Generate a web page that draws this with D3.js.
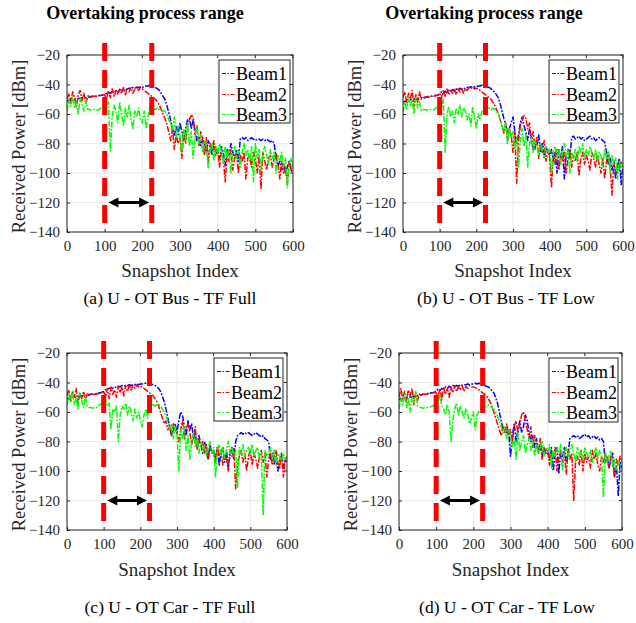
<!DOCTYPE html>
<html>
<head>
<meta charset="utf-8">
<script src="https://cdn.jsdelivr.net/npm/d3@7"></script>
<style>
html,body{margin:0;padding:0;background:#fff;}
svg{display:block;font-family:"Liberation Serif","Times New Roman",serif;}
</style>
</head>
<body>
<svg id="chart" width="636" height="623"></svg>
<script>
// ---------------- DATA ----------------
const snapshotStep = 5;               // snapshot index step between stored samples (0..600)
const xTicks = [0,100,200,300,400,500,600];
const yTicks = [-140,-120,-100,-80,-60,-40,-20];
const seriesNames = ["Beam1","Beam2","Beam3"];
const seriesColors = ["#0000ff","#ff0000","#00ff00"];
const overtakeStart = 100, overtakeEnd = 225;
const arrowFrom = 110, arrowTo = 218, arrowLevel = -120;
const topTitles = ["Overtaking process range","Overtaking process range"];
const captions = ["(a) U - OT Bus - TF Full","(b) U - OT Bus - TF Low","(c) U - OT Car - TF Full","(d) U - OT Car - TF Low"];

// Panel (a) U - OT Bus - TF Full
const A_beam1 = [
 -51,-51,-50.5,-50,-50,-50,-49.5,-49.5,-49,-49, -49,-48.5,-48.5,-48.5,-48,-48,-48,-47.5,-47.5,-47,
 -47,-46,-45.5,-46,-44.5,-45,-44,-45,-43.5,-44, -43,-44,-43,-42.5,-43,-42,-42.5,-42,-42,-41.5,
 -42,-41.5,-41,-41,-40.5,-41,-41.5,-42,-43,-44, -46,-48,-50,-54,-59,-64,-70,-75,-68,-74,
 -66,-72,-78,-70,-64,-63,-70,-64,-72,-78, -75,-82,-76,-80,-86,-78,-82,-88,-80,-84,
 -85,-90,-82,-86,-95,-84,-88,-80,-86,-90, -84,-92,
 -77,-76,-77,-76,-78,-77,-76,-77,-78,-77, -77,-78,-77,-78,-77,-78,-79,-78,-80,
 -90,-95,-92,-98,-94,-100,-96,-92,-98,-100];
const A_beam2 = [
 -50,-46,-52,-45,-49,-55,-47,-44,-51,-46, -53,-48,-47.5,-48,-48,-48,-48,-47.5,-47.5,-47,
 -47,-50,-44,-49,-43,-48,-44,-47,-43,-46, -42,-47,-43,-45,-42,-46,-43,-41.5,-44,-42,
 -43,-44,-45,-46,-47,-48,-49,-50,-52,-54, -57,-60,-63,-67,-72,-78,-70,-84,-74,-80,
 -76,-90,-72,-80,-68,-64,-61,-62,-74,-68, -82,-72,-78,-88,-76,-92,-80,-84,-78,-88,
 -84,-96,-86,-90,-106,-88,-92,-84,-98,-90, -86,-100,-88,-92,-86,-104,-90,-88,-96,-86,
 -90,-100,-88,-111,-86,-92,-98,-90,-88,-96, -90,-86,-94,-104,-92,-100,-96,-108,-92,-98, -94];
const A_beam3 = [
 -58,-50,-55,-48,-56,-52,-60,-49,-54,-58, -51,-57,-57,-57.5,-57,-57,-57.5,-57,-56,-55,
 -50,-54,-52,-85,-62,-54,-58,-66,-52,-60, -68,-56,-62,-54,-64,-70,-58,-62,-56,-64,
 -66,-58,-70,-62,-55,-60,-57,-57,-56,-57, -57,-58,-58,-60,-64,-66,-70,-62,-76,-68,
 -74,-86,-70,-78,-66,-82,-72,-90,-76,-68, -80,-74,-86,-78,-82,-97,-84,-80,-92,-82,
 -88,-80,-86,-94,-82,-90,-84,-100,-86,-82, -90,-84,-96,-86,-80,-88,-84,-92,-82,-106,
 -80,-90,-84,-98,-86,-82,-88,-94,-84,-90, -86,-100,-88,-92,-86,-96,-90,-110,-94,-90, -96];

// Panel (b) U - OT Bus - TF Low
const B_beam1 = [
 -52,-51.5,-51,-51,-50.5,-50,-50,-50,-49.5,-49.5, -49,-49,-49,-48.5,-48.5,-48,-48,-47.5,-47.5,-47,
 -46.5,-45,-46,-44.5,-45.5,-44,-45,-43.5,-44.5,-43, -44,-42.5,-43.5,-42.5,-43,-42,-42,-41.5,-42,-41.5,
 -41.5,-41,-41,-40.5,-41,-41,-41.5,-42,-43,-44, -45.5,-47,-49,-53,-58,-63,-67,-72,-70,-66,
 -62,-72,-80,-74,-66,-62,-68,-72,-78,-70, -76,-84,-78,-82,-74,-86,-80,-90,-82,-86,
 -88,-84,-92,-86,-100,-84,-90,-82,-104,-88, -84,-90,
 -76,-75,-77,-76,-75,-77,-76,-78,-77,-76, -75,-77,-76,-78,-77,-76,-77,-78,-79,
 -86,-94,-90,-98,-92,-104,-96,-90,-108,-94];
const B_beam2 = [
 -49,-45,-52,-46,-50,-44,-55,-47,-52,-45, -50,-49,-48.5,-48.5,-48,-48,-48,-48,-47.5,-47.5,
 -46,-49,-44,-48,-43,-47,-44,-46,-42.5,-47, -43,-45,-42,-46,-43,-44,-42,-43,-41.5,-43,
 -42.5,-43,-44,-45,-46,-47,-48,-49,-50,-52, -54,-57,-60,-64,-68,-73,-66,-78,-70,-74,
 -86,-72,-107,-78,-68,-64,-61,-63,-70,-66, -80,-72,-84,-76,-90,-80,-86,-78,-92,-84,
 -90,-110,-86,-94,-84,-98,-88,-92,-86,-100, -90,-84,-96,-88,-92,-86,-102,-90,-86,-94,
 -88,-92,-98,-86,-90,-96,-88,-94,-100,-90, -104,-92,-86,-96,-115,-92,-100,-94,-98,-92, -96];
const B_beam3 = [
 -59,-52,-57,-48,-55,-50,-60,-49,-56,-52, -58,-57,-57,-57.5,-57,-57,-57.5,-57,-56,-55,
 -52,-56,-50,-86,-60,-55,-62,-58,-66,-56, -60,-54,-62,-56,-58,-64,-60,-68,-55,-62,
 -70,-60,-64,-58,-60,-56,-57,-56,-57,-56, -57,-58,-60,-64,-68,-72,-66,-80,-70,-76,
 -72,-84,-76,-96,-78,-70,-82,-74,-96,-80, -76,-86,-78,-82,-88,-80,-84,-90,-82,-86,
 -84,-100,-86,-82,-90,-84,-94,-86,-80,-88, -84,-100,-86,-90,-84,-92,-82,-86,-80,-90,
 -84,-88,-82,-86,-90,-84,-92,-86,-88,-96, -84,-90,-86,-100,-88,-94,-90,-104,-92,-96, -94];

// Panel (c) U - OT Car - TF Full
const C_beam1 = [
 -51,-51,-50.5,-50,-50,-50,-49.5,-49.5,-49,-49, -49,-48.5,-48.5,-48,-48,-48,-47.5,-47,-47,-46.5,
 -46,-45,-44.5,-44,-43.5,-44,-43,-43.5,-42.5,-43, -42,-42.5,-42,-42,-41.5,-42,-41.5,-41.5,-41,-41.5,
 -41,-41,-40.5,-40.5,-40,-40.5,-41,-41.5,-42,-43, -44,-46,-49,-53,-58,-64,-70,-76,-72,-68,
 -74,-66,-60,-62,-70,-76,-66,-72,-68,-78, -74,-84,-76,-82,-88,-80,-86,-92,-82,-88,
 -86,-92,-84,-96,-88,-84,-94,-86,-98,-88, -84,-92,
 -80,-76,-75,-74,-75,-74,-75,-74,-75,-76, -75,-74,-75,-76,-77,-76,-78,-79,-80,
 -92,-88,-96,-90,-100,-94,-88,-98,-92,-94];
const C_beam2 = [
 -49,-45,-53,-46,-50,-44,-55,-47,-51,-46, -52,-48,-48,-48,-48,-48,-48,-47.5,-47.5,-47,
 -46,-50,-44,-51,-43,-48,-45,-50,-42.5,-47, -43,-49,-42,-46,-41.5,-45,-42,-44,-41.5,-43,
 -42.5,-43,-44,-45,-46,-47,-48,-49,-51,-53, -56,-60,-64,-68,-66,-72,-70,-76,-68,-72,
 -74,-80,-72,-66,-78,-70,-68,-74,-82,-76, -70,-86,-78,-84,-80,-88,-82,-92,-84,-86,
 -88,-94,-84,-90,-86,-96,-88,-92,-100,-86, -90,-84,-112,-96,-90,-86,-94,-88,-100,-90,
 -86,-96,-88,-92,-98,-90,-86,-94,-88,-104, -92,-88,-96,-90,-86,-94,-98,-88,-104,-92, -94];
const C_beam3 = [
 -56,-48,-53,-46,-55,-50,-58,-47,-52,-57, -49,-56,-57,-57,-57.5,-57,-57,-56,-55,-54,
 -50,-52,-56,-54,-72,-58,-60,-56,-80,-62, -56,-58,-54,-62,-56,-60,-66,-58,-64,-60,
 -66,-70,-62,-58,-64,-58,-56,-55,-56,-55, -55,-56,-58,-60,-63,-66,-72,-68,-78,-70,
 -74,-100,-72,-78,-70,-86,-76,-92,-80,-74, -84,-78,-88,-80,-86,-82,-90,-84,-80,-88,
 -84,-104,-86,-82,-90,-84,-92,-86,-80,-88, -84,-90,-86,-112,-84,-88,-82,-90,-86,-84,
 -88,-82,-90,-86,-84,-92,-88,-130,-86,-90, -88,-84,-92,-86,-96,-88,-90,-94,-88,-92, -90];

// Panel (d) U - OT Car - TF Low
const D_beam1 = [
 -51.5,-51,-51,-50.5,-50,-50,-50,-49.5,-49.5,-49, -49,-48.5,-48.5,-48,-48,-47.5,-47.5,-47,-47,-46.5,
 -46,-44.5,-45.5,-44,-44.5,-43,-44,-42.5,-43.5,-42, -43,-42,-42.5,-41.5,-42,-41.5,-41.5,-41,-41.5,-41,
 -41,-40.5,-41,-40.5,-41,-41.5,-42,-42.5,-43,-44, -45.5,-47,-50,-54,-60,-66,-72,-70,-76,-72,
 -90,-76,-68,-80,-72,-66,-74,-70,-62,-66, -74,-80,-76,-84,-78,-86,-82,-90,-84,-88,
 -86,-92,-84,-100,-88,-84,-102,-86,-90,-84, -94,-88,
 -78,-77,-76,-77,-76,-78,-77,-76,-75,-77, -76,-78,-77,-76,-78,-77,-79,-78,-80,
 -94,-90,-98,-92,-88,-104,-96,-117,-94,-98];
const D_beam2 = [
 -50,-44,-51,-46,-53,-45,-49,-44,-55,-47, -52,-48,-48,-48,-48,-48,-47.5,-47.5,-47,-47,
 -47,-50,-44,-52,-43,-48,-44,-50,-43,-47, -42,-46,-43,-45,-42,-46,-42.5,-44,-42,-43,
 -43,-43.5,-44,-45,-46,-47,-48,-49,-51,-53, -56,-60,-64,-68,-72,-76,-70,-74,-68,-76,
 -72,-80,-70,-66,-74,-68,-62,-60,-66,-72, -78,-70,-84,-76,-82,-88,-78,-92,-84,-86,
 -86,-96,-88,-92,-84,-100,-90,-86,-94,-88, -102,-86,-92,-88,-120,-94,-90,-96,-86,-100,
 -88,-94,-90,-98,-86,-92,-88,-96,-100,-90, -94,-88,-92,-98,-90,-94,-104,-92,-96,-90, -94];
const D_beam3 = [
 -58,-50,-55,-48,-57,-51,-60,-49,-54,-46, -56,-57,-57,-57.5,-57,-57,-57,-56.5,-56,-55,
 -50,-54,-48,-56,-58,-62,-55,-60,-80,-66, -58,-54,-62,-56,-60,-64,-58,-62,-68,-64,
 -60,-72,-62,-60,-58,-56,-57,-56,-55,-56, -57,-58,-60,-63,-66,-70,-74,-70,-78,-72,
 -76,-84,-78,-92,-74,-86,-80,-76,-88,-82, -78,-86,-80,-90,-82,-88,-84,-80,-90,-84,
 -86,-82,-98,-86,-90,-84,-88,-82,-100,-86, -84,-90,-86,-82,-88,-94,-84,-90,-86,-92,
 -84,-88,-90,-86,-94,-88,-84,-92,-86,-90, -118,-88,-94,-90,-86,-98,-92,-100,-94,-96, -98];

// ---------------- LAYOUT ----------------
const panels = [
  {series:[A_beam1,A_beam2,A_beam3], caption:captions[0], title:topTitles[0],
   box:{l:67,r:293,t:55,b:232}, titleX:145, capX:170, capY:304, xlabY:277, leg:{x:219,y:60,w:71,h:63}},
  {series:[B_beam1,B_beam2,B_beam3], caption:captions[1], title:topTitles[1],
   box:{l:403,r:623,t:55,b:232}, titleX:484, capX:506, capY:304, xlabY:277, leg:{x:549,y:60,w:70,h:63}},
  {series:[C_beam1,C_beam2,C_beam3], caption:captions[2], title:null,
   box:{l:67,r:287,t:353,b:530}, capX:170, capY:613, xlabY:576, leg:{x:214,y:358,w:69,h:63}},
  {series:[D_beam1,D_beam2,D_beam3], caption:captions[3], title:null,
   box:{l:399,r:622,t:353,b:530}, capX:507, capY:613, xlabY:576, leg:{x:549,y:358,w:69,h:64}}
];

const svg = d3.select("#chart");
svg.append("rect").attr("width",636).attr("height",623).attr("fill","#fff");
const axisColor = "#262626";
const dataDash = "6,1.5,1.8,1.5";

panels.forEach((p, pi) => {
  const B = p.box;
  const x = d3.scaleLinear().domain([0,600]).range([B.l,B.r]);
  const y = d3.scaleLinear().domain([-140,-20]).range([B.b,B.t]);
  const g = svg.append("g");
  const clipId = "clip"+pi;
  g.append("clipPath").attr("id",clipId).append("rect")
    .attr("x",B.l).attr("y",B.t).attr("width",B.r-B.l).attr("height",B.b-B.t);

  // grid
  g.append("g").selectAll("line").data(xTicks).join("line")
    .attr("x1",d=>x(d)).attr("x2",d=>x(d)).attr("y1",B.t).attr("y2",B.b)
    .attr("stroke","#e4e4e4").attr("stroke-width",0.8);
  g.append("g").selectAll("line").data(yTicks).join("line")
    .attr("y1",d=>y(d)).attr("y2",d=>y(d)).attr("x1",B.l).attr("x2",B.r)
    .attr("stroke","#e4e4e4").attr("stroke-width",0.8);

  // data lines
  const line = d3.line().x((d,i)=>x(i*snapshotStep)).y(d=>y(d));
  const dg = g.append("g").attr("clip-path",`url(#${clipId})`);
  p.series.forEach((s, si) => {
    dg.append("path").datum(s).attr("d",line).attr("fill","none")
      .attr("stroke",seriesColors[si]).attr("stroke-width",1.5)
      .attr("stroke-linejoin","round")
      .attr("stroke-dasharray",dataDash);
  });

  // axes
  const xAxis = d3.axisBottom(x).tickValues(xTicks).tickSizeInner(-3).tickSizeOuter(0).tickPadding(8);
  const yAxis = d3.axisLeft(y).tickValues(yTicks).tickSizeInner(-3).tickSizeOuter(0).tickPadding(7);
  const gx = g.append("g").attr("transform",`translate(0,${B.b})`).call(xAxis);
  const gy = g.append("g").attr("transform",`translate(${B.l},0)`).call(yAxis);
  [gx,gy].forEach(a=>{
    a.select(".domain").remove();
    a.selectAll(".tick line").attr("stroke",axisColor);
    a.selectAll(".tick text").attr("fill",axisColor).attr("font-size",15)
      .attr("font-family","Liberation Serif, Times New Roman, serif");
  });
  // mirrored ticks top/right
  g.append("g").selectAll("line").data(xTicks).join("line")
    .attr("x1",d=>x(d)).attr("x2",d=>x(d)).attr("y1",B.t).attr("y2",B.t+3).attr("stroke",axisColor);
  g.append("g").selectAll("line").data(yTicks).join("line")
    .attr("y1",d=>y(d)).attr("y2",d=>y(d)).attr("x1",B.r).attr("x2",B.r-3).attr("stroke",axisColor);
  g.append("rect").attr("x",B.l).attr("y",B.t).attr("width",B.r-B.l).attr("height",B.b-B.t)
    .attr("fill","none").attr("stroke",axisColor).attr("stroke-width",1);

  // overtaking range dashed lines
  [overtakeStart, overtakeEnd].forEach(v=>{
    g.append("line").attr("x1",x(v)).attr("x2",x(v)).attr("y1",B.t-12).attr("y2",B.b)
      .attr("stroke","#ff0000").attr("stroke-width",5).attr("stroke-dasharray","18,9");
  });

  // double arrow
  const ax1 = x(arrowFrom), ax2 = x(arrowTo), ay = y(arrowLevel);
  const hl = 10, hw = 5;
  g.append("line").attr("x1",ax1+hl-1).attr("x2",ax2-hl+1).attr("y1",ay).attr("y2",ay)
    .attr("stroke","#000").attr("stroke-width",3);
  g.append("path").attr("d",`M${ax1},${ay}L${ax1+hl},${ay-hw}L${ax1+hl},${ay+hw}Z`).attr("fill","#000");
  g.append("path").attr("d",`M${ax2},${ay}L${ax2-hl},${ay-hw}L${ax2-hl},${ay+hw}Z`).attr("fill","#000");

  // labels
  g.append("text").attr("x",(B.l+B.r)/2).attr("y",p.xlabY).attr("text-anchor","middle")
    .attr("font-size",19).attr("fill",axisColor).text("Snapshot Index");
  g.append("text").attr("transform",`translate(${B.l-42},${(B.t+B.b)/2+3}) rotate(-90)`)
    .attr("text-anchor","middle").attr("font-size",18.5).attr("fill",axisColor)
    .text("Received Power [dBm]");
  g.append("text").attr("x",p.capX).attr("y",p.capY).attr("text-anchor","middle")
    .attr("font-size",17.5).attr("fill","#000").text(p.caption);
  if (p.title) {
    g.append("text").attr("x",p.titleX).attr("y",19).attr("text-anchor","middle")
      .attr("font-size",18).attr("font-weight","bold").attr("fill","#000").text(p.title);
  }

  // legend
  const L = p.leg;
  const lg = g.append("g");
  lg.append("rect").attr("x",L.x).attr("y",L.y).attr("width",L.w).attr("height",L.h)
    .attr("fill","#fff").attr("stroke",axisColor).attr("stroke-width",1);
  seriesNames.forEach((n, i) => {
    const cy = Math.round(L.y + 13 + i*20.5) + 0.5;
    lg.append("line").attr("x1",L.x+3).attr("x2",L.x+16).attr("y1",cy).attr("y2",cy)
      .attr("stroke",seriesColors[i]).attr("stroke-width",1.2).attr("stroke-dasharray","4,1.5,1.5,1.5");
    lg.append("text").attr("x",L.x+17).attr("y",cy).attr("dy","0.35em")
      .attr("font-size",18).attr("fill","#000").text(n);
  });
});
</script>
</body>
</html>
